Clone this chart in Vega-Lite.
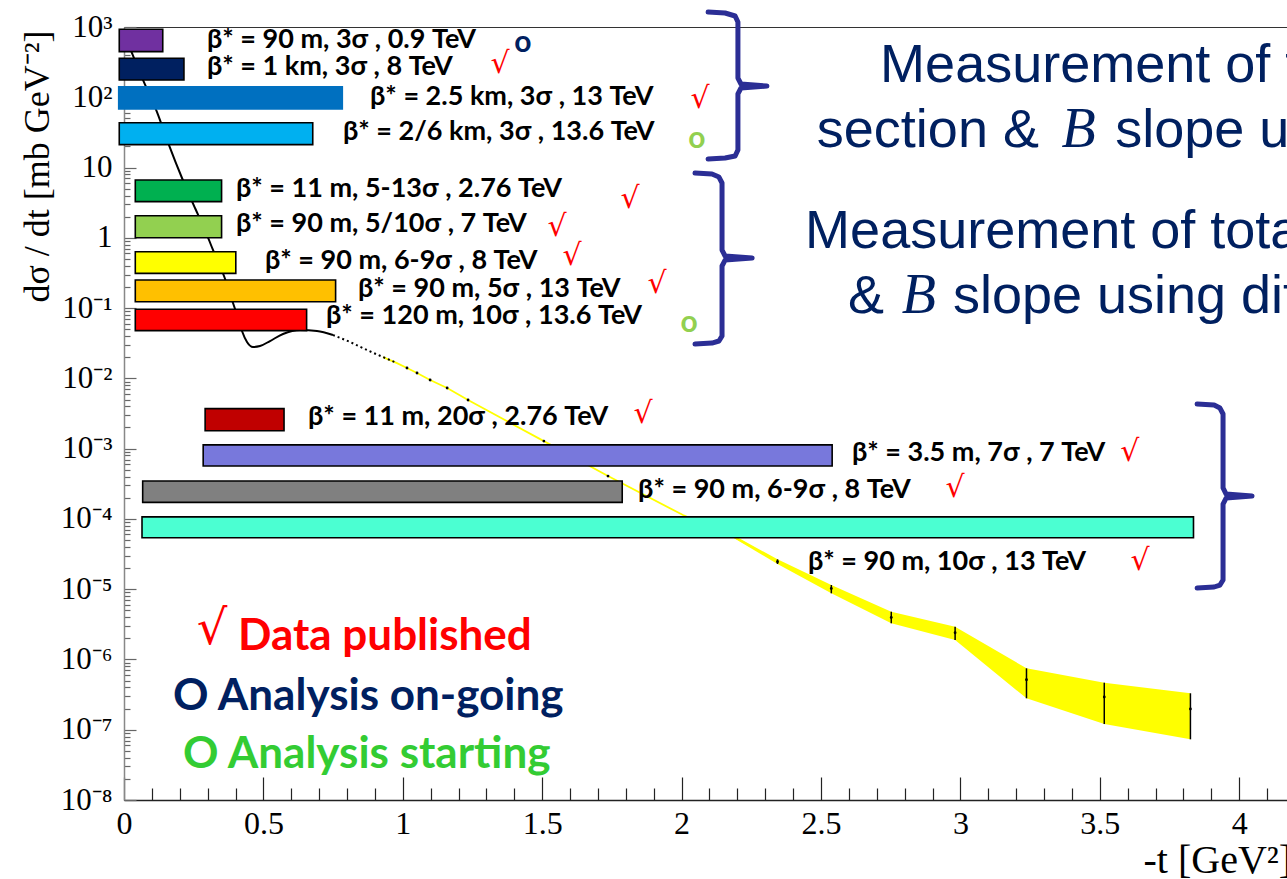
{
  "$schema": "https://vega.github.io/schema/vega-lite/v6.json",
  "width": 1163,
  "height": 773,
  "autosize": {"type": "none"},
  "padding": {"left": 124, "top": 27, "right": 0, "bottom": 79},
  "background": "white",
  "config": {"view": {"stroke": "#333", "strokeWidth": 1}},
  "datasets": {
    "band": [
      {"t": 2.187, "v": 0.0000535, "v2": 0.0000585},
      {"t": 2.344, "v": 0.0000228, "v2": 0.0000266},
      {"t": 2.537, "v": 0.00000873, "v2": 0.00001146},
      {"t": 2.752, "v": 0.00000327, "v2": 0.00000478},
      {"t": 2.981, "v": 0.00000189, "v2": 0.00000292},
      {"t": 3.237, "v": 2.8e-7, "v2": 7.48e-7},
      {"t": 3.516, "v": 1.205e-7, "v2": 4.67e-7},
      {"t": 3.825, "v": 7.3e-8, "v2": 3.3e-7}
    ],
    "errs": [
      {"t": 2.344, "v": 0.0000228, "v2": 0.0000266},
      {"t": 2.537, "v": 0.00000873, "v2": 0.00001146},
      {"t": 2.752, "v": 0.00000327, "v2": 0.00000478},
      {"t": 2.981, "v": 0.00000189, "v2": 0.00000292},
      {"t": 3.237, "v": 2.8e-7, "v2": 7.48e-7},
      {"t": 3.516, "v": 1.205e-7, "v2": 4.67e-7},
      {"t": 3.825, "v": 7.3e-8, "v2": 3.3e-7}
    ],
    "yline": [
      {"t": 0.929, "v": 0.0201}, {"t": 0.9792, "v": 0.0165}, {"t": 1.015, "v": 0.01403},
      {"t": 1.051, "v": 0.01191}, {"t": 1.098, "v": 0.00948}, {"t": 1.159, "v": 0.00729},
      {"t": 1.234, "v": 0.00492}, {"t": 1.506, "v": 0.00128}, {"t": 1.736, "v": 0.000407},
      {"t": 2.005, "v": 0.0001135}, {"t": 2.187, "v": 0.0000558}, {"t": 2.344, "v": 0.00002455}
    ],
    "curve": [
      {"t": 0.0215, "v": 502}, {"t": 0.0681, "v": 176.2}, {"t": 0.1184, "v": 61.7},
      {"t": 0.1614, "v": 20.9}, {"t": 0.208, "v": 7.1}, {"t": 0.2547, "v": 2.655},
      {"t": 0.2905, "v": 1.291}, {"t": 0.3192, "v": 0.671}, {"t": 0.3587, "v": 0.2864},
      {"t": 0.391, "v": 0.118}, {"t": 0.4089, "v": 0.0723}, {"t": 0.4232, "v": 0.0472},
      {"t": 0.4412, "v": 0.0329}, {"t": 0.4627, "v": 0.0279}, {"t": 0.4878, "v": 0.0288},
      {"t": 0.5237, "v": 0.034}, {"t": 0.5703, "v": 0.0428}, {"t": 0.6313, "v": 0.0488},
      {"t": 0.6922, "v": 0.0472}, {"t": 0.7496, "v": 0.0414}
    ],
    "curve2": [
      {"t": 0.7496, "v": 0.0414}, {"t": 0.8106, "v": 0.0329}, {"t": 0.8716, "v": 0.0253},
      {"t": 0.929, "v": 0.0201}, {"t": 0.9792, "v": 0.0165}
    ],
    "dots": [
      {"t": 1.015, "v": 0.01403}, {"t": 1.051, "v": 0.01191}, {"t": 1.098, "v": 0.00948},
      {"t": 1.159, "v": 0.00729}, {"t": 1.234, "v": 0.00492}, {"t": 1.506, "v": 0.00128},
      {"t": 1.736, "v": 0.000407},
      {"t": 2.344, "v": 0.00002455}, {"t": 2.537, "v": 0.00001023}, {"t": 2.752, "v": 0.00000395},
      {"t": 2.981, "v": 0.0000024}, {"t": 3.237, "v": 5.14e-7}, {"t": 3.516, "v": 2.92e-7},
      {"t": 3.825, "v": 1.97e-7}
    ],
    "bars": [
      {"id": 1, "t": -0.017, "t2": 0.139, "v": 927, "v2": 446},
      {"id": 2, "t": -0.017, "t2": 0.215, "v": 359, "v2": 176},
      {"id": 3, "t": -0.019, "t2": 0.783, "v": 141, "v2": 68.1},
      {"id": 4, "t": -0.017, "t2": 0.677, "v": 43.4, "v2": 21.2},
      {"id": 5, "t": 0.0405, "t2": 0.35, "v": 6.65, "v2": 3.27},
      {"id": 6, "t": 0.0405, "t2": 0.35, "v": 2.06, "v2": 1.0},
      {"id": 7, "t": 0.0405, "t2": 0.401, "v": 0.634, "v2": 0.312},
      {"id": 8, "t": 0.0405, "t2": 0.759, "v": 0.251, "v2": 0.123},
      {"id": 9, "t": 0.0405, "t2": 0.655, "v": 0.0962, "v2": 0.0478},
      {"id": 10, "t": 0.291, "t2": 0.574, "v": 0.00371, "v2": 0.0018},
      {"id": 11, "t": 0.284, "t2": 2.54, "v": 0.00113, "v2": 0.000566},
      {"id": 12, "t": 0.067, "t2": 1.787, "v": 0.000346, "v2": 0.000172},
      {"id": 13, "t": 0.0646, "t2": 3.836, "v": 0.000107, "v2": 0.000054}
    ],
    "labels": [
      {"t": 0.2977, "v": 653, "label": "β* = 90 m, 3σ , 0.9 TeV"},
      {"t": 0.2977, "v": 269.8, "label": "β* = 1 km, 3σ , 8 TeV"},
      {"t": 0.8824, "v": 100.9, "label": "β* = 2.5 km, 3σ , 13 TeV"},
      {"t": 0.7855, "v": 32.0, "label": "β* = 2/6 km, 3σ , 13.6 TeV"},
      {"t": 0.4017, "v": 4.95, "label": "β* = 11 m, 5-13σ , 2.76 TeV"},
      {"t": 0.4017, "v": 1.574, "label": "β* = 90 m, 5/10σ , 7 TeV"},
      {"t": 0.5057, "v": 0.468, "label": "β* = 90 m, 6-9σ , 8 TeV"},
      {"t": 0.8393, "v": 0.187, "label": "β* = 90 m, 5σ , 13 TeV"},
      {"t": 0.7245, "v": 0.0771, "label": "β* = 120 m, 10σ , 13.6 TeV"},
      {"t": 0.66, "v": 0.00282, "label": "β* = 11 m, 20σ , 2.76 TeV"},
      {"t": 2.611, "v": 0.000867, "label": "β* = 3.5 m, 7σ , 7 TeV"},
      {"t": 1.844, "v": 0.000258, "label": "β* = 90 m, 6-9σ , 8 TeV"},
      {"t": 2.453, "v": 0.0000244, "label": "β* = 90 m, 10σ , 13 TeV"}
    ],
    "checks": [
      {"t": 1.349, "v": 297}, {"t": 2.066, "v": 94.4}, {"t": 1.815, "v": 3.565},
      {"t": 1.553, "v": 1.426}, {"t": 1.607, "v": 0.551}, {"t": 1.912, "v": 0.2203},
      {"t": 1.862, "v": 0.00311}, {"t": 3.608, "v": 0.000895}, {"t": 2.981, "v": 0.000275},
      {"t": 3.644, "v": 0.0000252}
    ],
    "circles": [
      {"t": 1.431, "v": 591, "status": "on-going"},
      {"t": 2.055, "v": 25.5, "status": "starting"},
      {"t": 2.027, "v": 0.0614, "status": "starting"}
    ],
    "braces": [
      {"id": 1, "i": 1, "t": 2.095, "v": 1633}, {"id": 1, "i": 2, "t": 2.156, "v": 1581},
      {"id": 1, "i": 3, "t": 2.192, "v": 1435}, {"id": 1, "i": 4, "t": 2.202, "v": 1178},
      {"id": 1, "i": 5, "t": 2.202, "v": 187.9}, {"id": 1, "i": 6, "t": 2.213, "v": 154.5},
      {"id": 1, "i": 7, "t": 2.306, "v": 144.5}, {"id": 1, "i": 8, "t": 2.213, "v": 135.5},
      {"id": 1, "i": 9, "t": 2.202, "v": 111.4}, {"id": 1, "i": 10, "t": 2.202, "v": 17.78},
      {"id": 1, "i": 11, "t": 2.192, "v": 14.59}, {"id": 1, "i": 12, "t": 2.156, "v": 13.68},
      {"id": 1, "i": 13, "t": 2.095, "v": 13.24},
      {"id": 2, "i": 1, "t": 2.048, "v": 8.356}, {"id": 2, "i": 2, "t": 2.109, "v": 8.091},
      {"id": 2, "i": 3, "t": 2.134, "v": 7.328}, {"id": 2, "i": 4, "t": 2.145, "v": 6.026},
      {"id": 2, "i": 5, "t": 2.145, "v": 0.67}, {"id": 2, "i": 6, "t": 2.156, "v": 0.551},
      {"id": 2, "i": 7, "t": 2.253, "v": 0.516}, {"id": 2, "i": 8, "t": 2.156, "v": 0.483},
      {"id": 2, "i": 9, "t": 2.145, "v": 0.397}, {"id": 2, "i": 10, "t": 2.145, "v": 0.0401},
      {"id": 2, "i": 11, "t": 2.134, "v": 0.034}, {"id": 2, "i": 12, "t": 2.109, "v": 0.0318},
      {"id": 2, "i": 13, "t": 2.048, "v": 0.0308},
      {"id": 3, "i": 1, "t": 3.849, "v": 0.004315}, {"id": 3, "i": 2, "t": 3.91, "v": 0.004178},
      {"id": 3, "i": 3, "t": 3.931, "v": 0.003784}, {"id": 3, "i": 4, "t": 3.942, "v": 0.003112},
      {"id": 3, "i": 5, "t": 3.942, "v": 0.0002754}, {"id": 3, "i": 6, "t": 3.953, "v": 0.0002259},
      {"id": 3, "i": 7, "t": 4.046, "v": 0.0002118}, {"id": 3, "i": 8, "t": 3.953, "v": 0.0001982},
      {"id": 3, "i": 9, "t": 3.942, "v": 0.0001629}, {"id": 3, "i": 10, "t": 3.942, "v": 0.00001349},
      {"id": 3, "i": 11, "t": 3.931, "v": 0.00001146}, {"id": 3, "i": 12, "t": 3.91, "v": 0.00001074},
      {"id": 3, "i": 13, "t": 3.849, "v": 0.00001038}
    ],
    "heads": [
      {"t": 2.712, "v": 166.6, "txt": "Measurement of total cross"},
      {"t": 2.485, "v": 19.8, "txt": "section &"},
      {"t": 3.555, "v": 19.8, "txt": "slope using optical theorem"},
      {"t": 2.443, "v": 0.716, "txt": "Measurement of total cross section"},
      {"t": 2.597, "v": 0.0851, "txt": "&"},
      {"t": 2.973, "v": 0.0851, "txt": "slope using differential"}
    ],
    "bees": [
      {"t": 3.363, "v": 19.8, "txt": "B"},
      {"t": 2.79, "v": 0.0851, "txt": "B"}
    ],
    "legend": [
      {"t": 0.4089, "v": 0.00000136, "txt": "Data published", "status": "published"},
      {"t": 0.1758, "v": 1.905e-7, "txt": "O Analysis on-going", "status": "on-going"},
      {"t": 0.2116, "v": 2.85e-8, "txt": "O Analysis starting", "status": "starting"}
    ],
    "legcheck": [
      {"t": 0.3156, "v": 0.00000262}
    ]
  },
  "layer": [
    {
      "data": {"name": "band"},
      "mark": {"type": "area", "color": "#FFFF00", "opacity": 1},
      "encoding": {
        "x": {
          "field": "t", "type": "quantitative",
          "scale": {"domain": [0, 4.1714], "nice": false, "zero": false},
          "axis": {
            "title": "-t [GeV²]",
            "tickCount": 500,
            "values": [0,0.1,0.2,0.3,0.4,0.5,0.6,0.7,0.8,0.9,1,1.1,1.2,1.3,1.4,1.5,1.6,1.7,1.8,1.9,2,2.1,2.2,2.3,2.4,2.5,2.6,2.7,2.8,2.9,3,3.1,3.2,3.3,3.4,3.5,3.6,3.7,3.8,3.9,4,4.1],
            "labelExpr": "abs(datum.value*2 - round(datum.value*2)) < 0.001 ? format(datum.value, '~g') : ''",
            "tickSize": {"condition": {"test": "abs(datum.value*2 - round(datum.value*2)) < 0.001", "value": -23}, "value": -12},
            "labelPadding": 31,
            "labelFont": "Liberation Serif", "labelFontSize": 32, "labelColor": "black",
            "labelOverlap": false, "labelBound": false, "labelFlush": false,
            "tickColor": "#222", "tickWidth": 1.2, "domainColor": "#222", "domainWidth": 1.5,
            "grid": false,
            "titleFont": "Liberation Serif", "titleFontSize": 40, "titleFontWeight": "normal", "titleColor": "black",
            "titleX": 1019, "titleY": 72, "titleAlign": "left", "titleBaseline": "alphabetic"
          }
        },
        "y": {
          "field": "v", "type": "quantitative",
          "scale": {"type": "log", "domain": [1e-8, 1000], "nice": false},
          "axis": {
            "title": "dσ / dt [mb GeV⁻²]",
            "tickCount": 500,
            "values": [1e-8,2e-8,3e-8,4e-8,5e-8,6e-8,7e-8,8e-8,9e-8,1e-7,2e-7,3e-7,4e-7,5e-7,6e-7,7e-7,8e-7,9e-7,1e-6,2e-6,3e-6,4e-6,5e-6,6e-6,7e-6,8e-6,9e-6,1e-5,2e-5,3e-5,4e-5,5e-5,6e-5,7e-5,8e-5,9e-5,1e-4,2e-4,3e-4,4e-4,5e-4,6e-4,7e-4,8e-4,9e-4,1e-3,2e-3,3e-3,4e-3,5e-3,6e-3,7e-3,8e-3,9e-3,0.01,0.02,0.03,0.04,0.05,0.06,0.07,0.08,0.09,0.1,0.2,0.3,0.4,0.5,0.6,0.7,0.8,0.9,1,2,3,4,5,6,7,8,9,10,20,30,40,50,60,70,80,90,100,200,300,400,500,600,700,800,900,1000],
            "labelExpr": "abs(log(datum.value)/LN10 - round(log(datum.value)/LN10)) < 0.001 ? ['10⁻⁸','10⁻⁷','10⁻⁶','10⁻⁵','10⁻⁴','10⁻³','10⁻²','10⁻¹','1','10','10²','10³'][round(log(datum.value)/LN10)+8] : ''",
            "tickSize": {"condition": {"test": "abs(log(datum.value)/LN10 - round(log(datum.value)/LN10)) < 0.001", "value": -12}, "value": -6},
            "labelPadding": 24,
            "labelFont": "Liberation Serif", "labelFontSize": 31, "labelColor": "black",
            "labelOverlap": false, "labelBound": false, "labelFlush": false,
            "tickColor": "#666", "tickWidth": 1.2, "domainColor": "#888", "domainWidth": 1.5,
            "grid": false,
            "titleFont": "Liberation Serif", "titleFontSize": 36, "titleFontWeight": "normal", "titleColor": "black",
            "titleAngle": -90, "titleX": -76, "titleY": 139, "titleAlign": "center", "titleBaseline": "alphabetic"
          }
        },
        "y2": {"field": "v2"}
      }
    },
    {
      "data": {"name": "yline"},
      "mark": {"type": "line", "color": "#FFFF00", "strokeWidth": 1.8},
      "encoding": {"x": {"field": "t", "type": "quantitative"}, "y": {"field": "v", "type": "quantitative"}}
    },
    {
      "data": {"name": "curve"},
      "mark": {"type": "line", "color": "black", "strokeWidth": 2, "interpolate": "monotone"},
      "encoding": {"x": {"field": "t", "type": "quantitative"}, "y": {"field": "v", "type": "quantitative"}}
    },
    {
      "data": {"name": "curve2"},
      "mark": {"type": "line", "color": "black", "strokeWidth": 2, "strokeDash": [2, 3], "interpolate": "monotone"},
      "encoding": {"x": {"field": "t", "type": "quantitative"}, "y": {"field": "v", "type": "quantitative"}}
    },
    {
      "data": {"name": "errs"},
      "mark": {"type": "rule", "color": "black", "strokeWidth": 1.5},
      "encoding": {"x": {"field": "t", "type": "quantitative"}, "y": {"field": "v", "type": "quantitative"}, "y2": {"field": "v2"}}
    },
    {
      "data": {"name": "dots"},
      "mark": {"type": "circle", "color": "black", "size": 8, "opacity": 1},
      "encoding": {"x": {"field": "t", "type": "quantitative"}, "y": {"field": "v", "type": "quantitative"}}
    },
    {
      "data": {"name": "bars"},
      "mark": {"type": "rect", "strokeWidth": 1.6, "opacity": 1},
      "encoding": {
        "x": {"field": "t", "type": "quantitative"},
        "x2": {"field": "t2"},
        "y": {"field": "v", "type": "quantitative"},
        "y2": {"field": "v2"},
        "color": {
          "field": "id", "type": "nominal", "legend": null,
          "scale": {"domain": [1,2,3,4,5,6,7,8,9,10,11,12,13],
                    "range": ["#7030A0","#002060","#0070C0","#00B0F0","#00B050","#92D050","#FFFF00","#FFC000","#FF0000","#C00000","#7878DC","#808080","#4BFFD2"]}
        },
        "stroke": {"condition": {"test": "datum.id == 3", "value": "#0070C0"}, "value": "black"}
      }
    },
    {
      "data": {"name": "labels"},
      "mark": {"type": "text", "align": "left", "baseline": "middle", "font": "Lato", "fontWeight": "bold", "fontSize": 27, "color": "black"},
      "encoding": {"x": {"field": "t", "type": "quantitative"}, "y": {"field": "v", "type": "quantitative"}, "text": {"field": "label"}}
    },
    {
      "data": {"name": "checks"},
      "mark": {"type": "text", "align": "center", "baseline": "middle", "font": "DejaVu Sans", "fontSize": 30, "color": "#FF0000", "text": "√"},
      "encoding": {"x": {"field": "t", "type": "quantitative"}, "y": {"field": "v", "type": "quantitative"}}
    },
    {
      "data": {"name": "circles"},
      "mark": {"type": "text", "align": "center", "baseline": "middle", "font": "Lato", "fontWeight": "bold", "fontSize": 30, "text": "o"},
      "encoding": {
        "x": {"field": "t", "type": "quantitative"}, "y": {"field": "v", "type": "quantitative"},
        "color": {"field": "status", "type": "nominal", "legend": null,
                  "scale": {"domain": ["published", "on-going", "starting", "start2"], "range": ["#FF0000", "#002060", "#92D050", "#33CC33"]}}
      }
    },
    {
      "data": {"name": "braces"},
      "mark": {"type": "line", "color": "#2B2E95", "strokeWidth": 5, "strokeCap": "round", "strokeJoin": "round"},
      "encoding": {
        "x": {"field": "t", "type": "quantitative"}, "y": {"field": "v", "type": "quantitative"},
        "detail": {"field": "id", "type": "nominal"},
        "order": {"field": "i", "type": "quantitative"}
      }
    },
    {
      "data": {"name": "heads"},
      "mark": {"type": "text", "align": "left", "baseline": "alphabetic", "font": "Liberation Sans", "fontSize": 54, "color": "#002060"},
      "encoding": {"x": {"field": "t", "type": "quantitative"}, "y": {"field": "v", "type": "quantitative"}, "text": {"field": "txt"}}
    },
    {
      "data": {"name": "bees"},
      "mark": {"type": "text", "align": "left", "baseline": "alphabetic", "font": "Liberation Serif", "fontStyle": "italic", "fontSize": 56, "color": "#002060"},
      "encoding": {"x": {"field": "t", "type": "quantitative"}, "y": {"field": "v", "type": "quantitative"}, "text": {"field": "txt"}}
    },
    {
      "data": {"name": "legend"},
      "mark": {"type": "text", "align": "left", "baseline": "alphabetic", "font": "Lato", "fontWeight": "bold", "fontSize": 44},
      "encoding": {
        "x": {"field": "t", "type": "quantitative"}, "y": {"field": "v", "type": "quantitative"}, "text": {"field": "txt"},
        "color": {"field": "status", "type": "nominal", "legend": null,
                  "scale": {"domain": ["published", "on-going", "starting"], "range": ["#FF0000", "#002060", "#33CC33"]}}
      }
    },
    {
      "data": {"name": "legcheck"},
      "mark": {"type": "text", "align": "center", "baseline": "middle", "font": "DejaVu Sans", "fontSize": 48, "color": "#FF0000", "text": "√"},
      "encoding": {"x": {"field": "t", "type": "quantitative"}, "y": {"field": "v", "type": "quantitative"}}
    }
  ],
  "resolve": {"scale": {"color": "independent"}}
}
